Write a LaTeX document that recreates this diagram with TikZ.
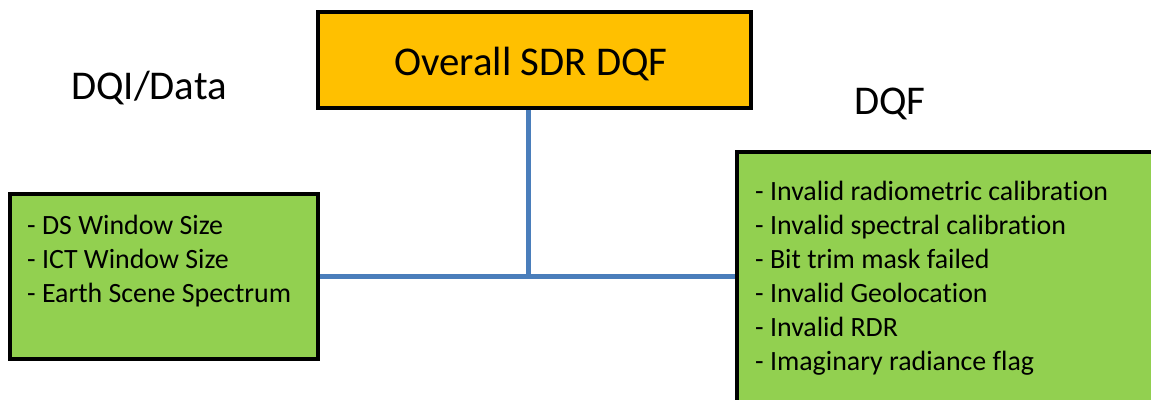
\documentclass[tikz,border=0pt]{standalone}
\usepackage{fontspec}
\setmainfont{Carlito}[Ligatures=NoCommon]
\definecolor{boxorange}{HTML}{FFC000}
\definecolor{boxgreen}{HTML}{92D050}
\definecolor{linkblue}{HTML}{4A7EBB}
\tikzset{
  box/.style={draw=black, line width=3.5bp, inner sep=0pt, rectangle},
  link/.style={draw=linkblue, line width=5bp},
  item/.style={anchor=base west, inner sep=0pt, font=\fontsize{28}{34}\selectfont},
  heading/.style={anchor=base, inner sep=0pt, font=\fontsize{41}{48}\selectfont}
}
\begin{document}
\begin{tikzpicture}[x=1bp, y=-1bp]
  \useasboundingbox (0,0) rectangle (1151,399);
  \clip (0,0) rectangle (1151,399);
  \fill[white] (0,0) rectangle (1151,399);

  % boxes
  \node[box, fill=boxorange, minimum width=433bp, minimum height=96bp] (top) at (534.5,60) {};
  \node[box, fill=boxgreen, minimum width=308bp, minimum height=165bp] (left) at (164,276.5) {};
  \node[box, fill=boxgreen, minimum width=433bp, minimum height=268bp] (right) at (953.5,286) {};

  % connectors
  \coordinate (j) at (528,276.5);
  \draw[link] (left.east |- j) -- (right.west |- j);
  \draw[link] (top.south -| j) -- (j);

  % titles
  \node[heading] (title) at (531,75) {Overall SDR DQF};
  \node[heading, anchor=base west] (dqi) at (71,99) {DQI/Data};
  \node[heading, anchor=base west] (dqf) at (854,114) {DQF};

  % left list
  \node[item] (l1) at (27,234) {- DS Window Size};
  \node[item] (l2) at (27,268) {- ICT Window Size};
  \node[item] (l3) at (27,302) {- Earth Scene Spectrum};

  % right list
  \node[item] (r1) at (755,200) {- Invalid radiometric calibration};
  \node[item] (r2) at (755,234) {- Invalid spectral calibration};
  \node[item] (r3) at (755,268) {- Bit trim mask failed};
  \node[item] (r4) at (755,302) {- Invalid Geolocation};
  \node[item] (r5) at (755,336) {- Invalid RDR};
  \node[item] (r6) at (755,370) {- Imaginary radiance flag};
\end{tikzpicture}
\end{document}
